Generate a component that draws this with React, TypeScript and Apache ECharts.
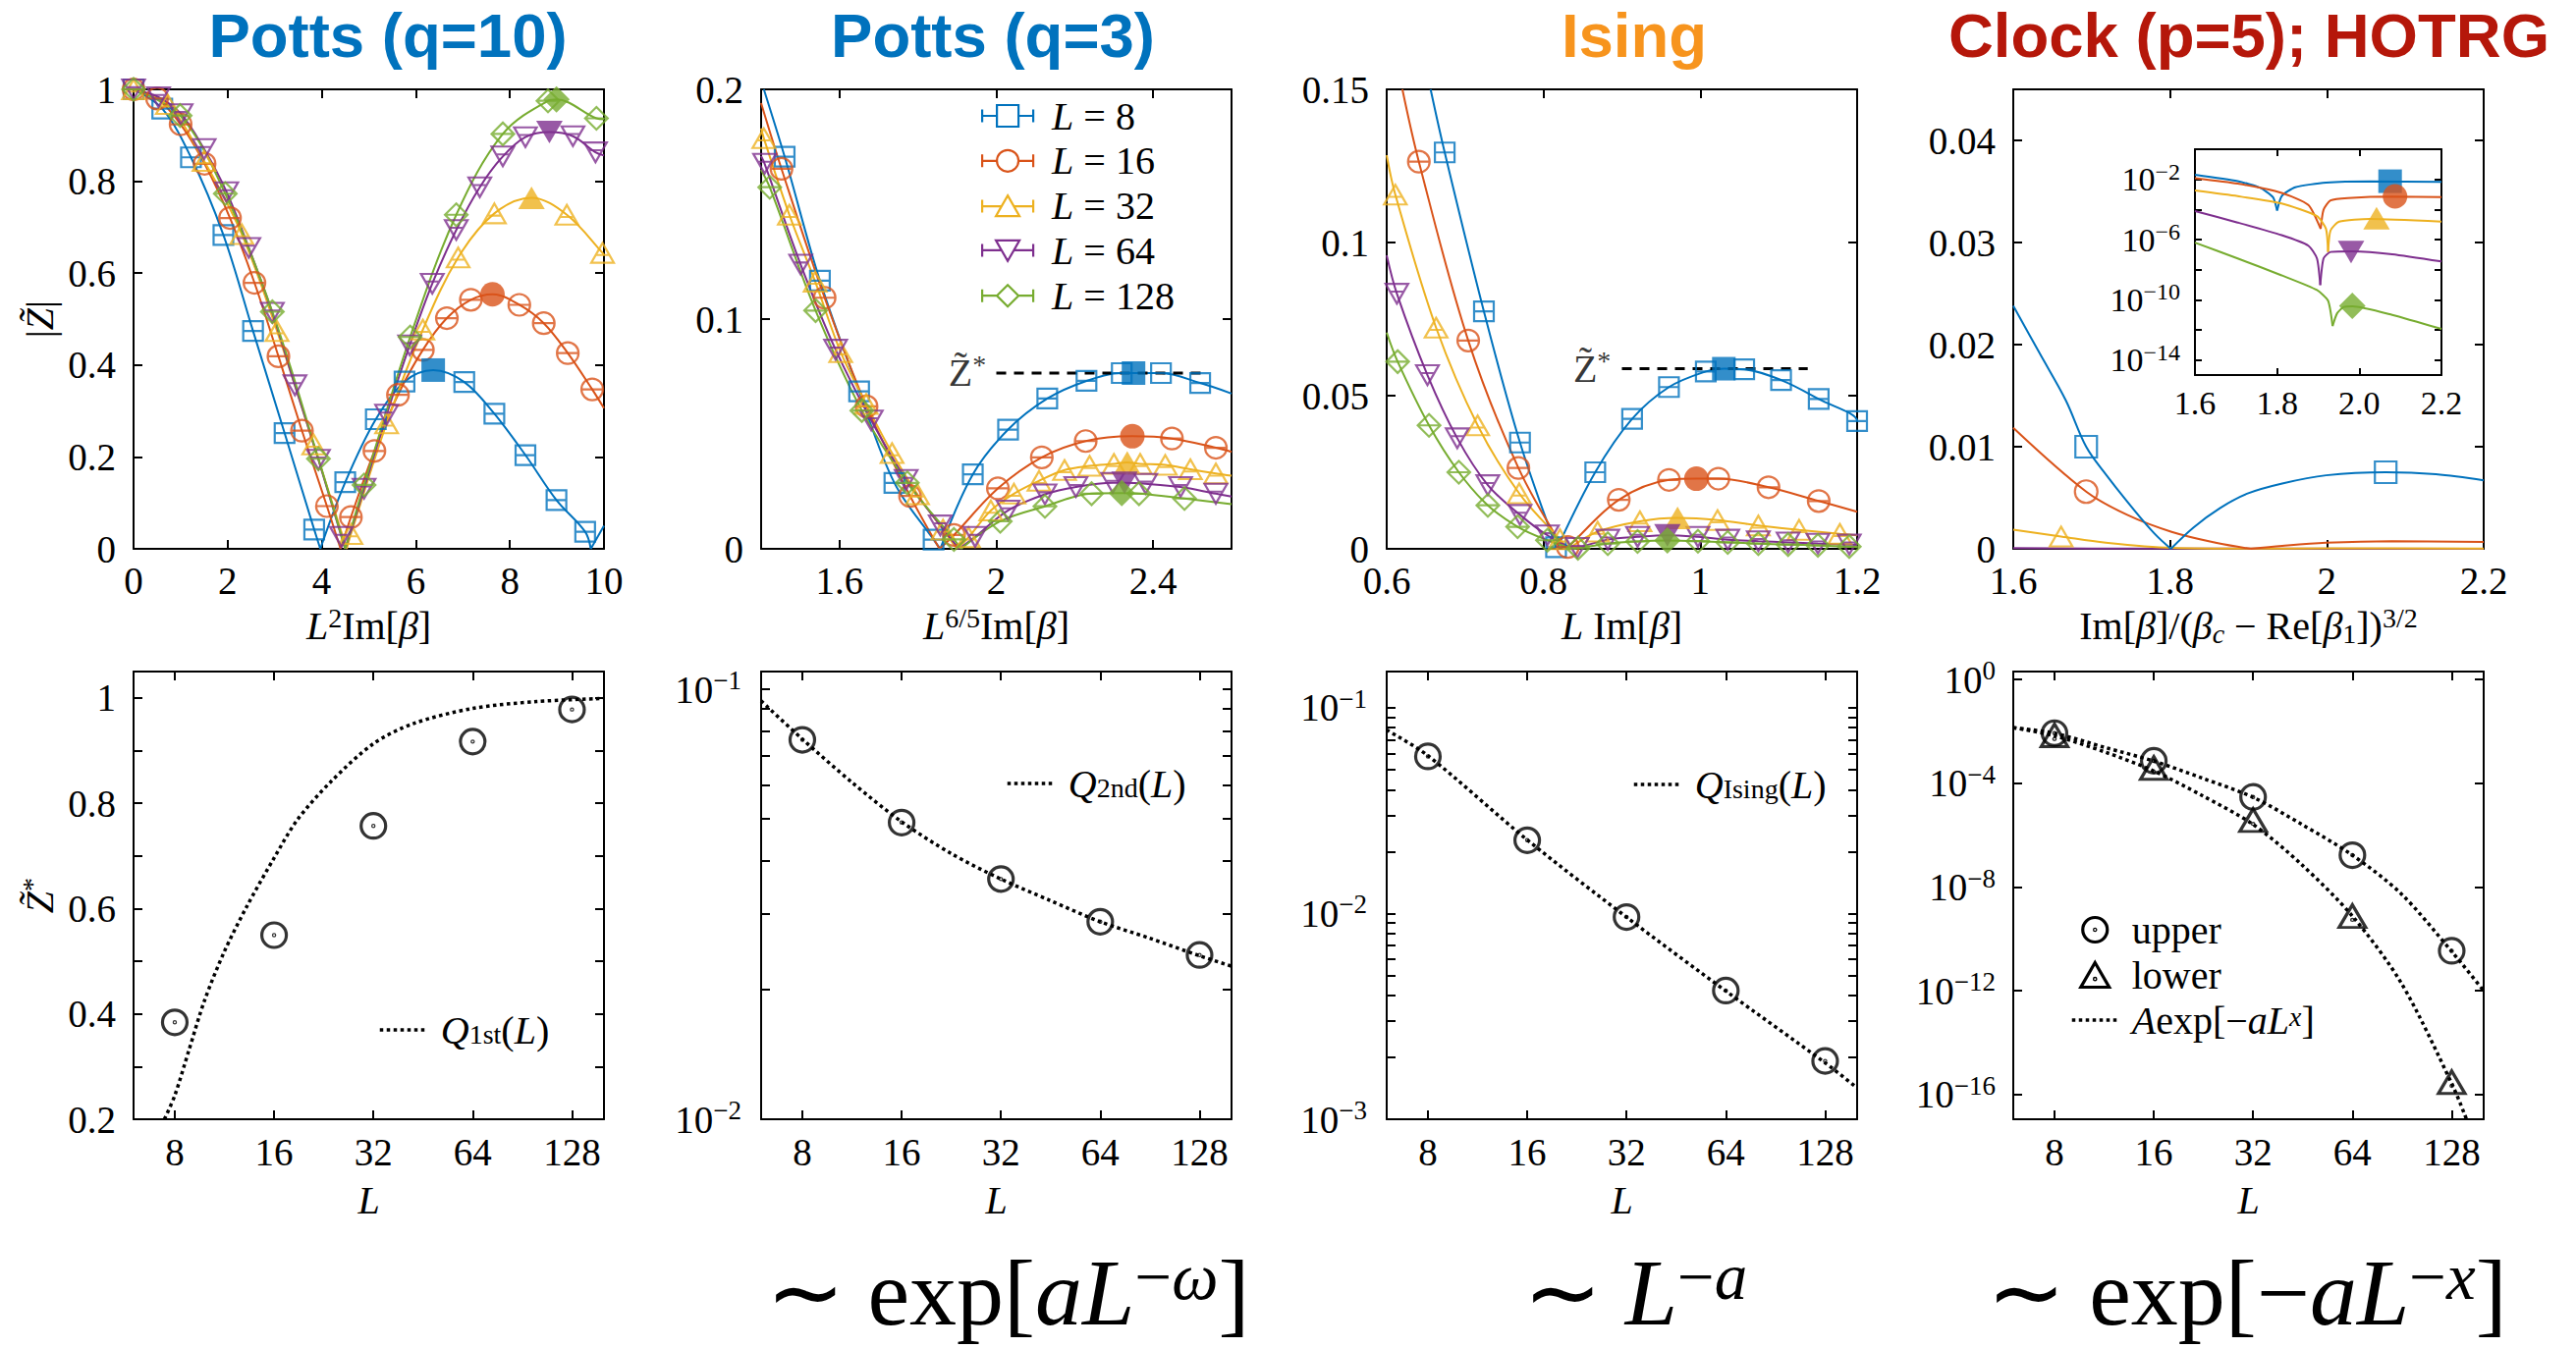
import React, { useEffect, useRef } from 'react';
import * as echarts from 'echarts';

const SERIF = 'Liberation Serif';
const SANS = 'Liberation Sans';
const COLORS = ['#0072BD', '#D95319', '#EDB120', '#7E2F8E', '#77AC30'];
const L_SIZES = [8, 16, 32, 64, 128];

/* ---------------- Potts q=10 : |Z~| vs L^2 Im[beta] ---------------- */
const q10_x8 = [0, 0.61, 1.22, 1.91, 2.54, 3.21, 3.84, 4.5, 5.15, 5.76, 7.03, 7.67, 8.33, 8.99, 9.6];
const q10_y8 = [1.0, 0.958, 0.852, 0.683, 0.474, 0.252, 0.042, 0.145, 0.282, 0.364, 0.363, 0.294, 0.204, 0.106, 0.037];
const q10_x16 = [0, 0.5, 1.0, 1.51, 2.05, 2.57, 3.08, 3.58, 4.11, 4.62, 5.12, 5.62, 6.15, 6.66, 7.17, 8.2, 8.72, 9.23, 9.75];
const q10_y16 = [1.0, 0.98, 0.924, 0.838, 0.72, 0.579, 0.419, 0.257, 0.093, 0.069, 0.213, 0.335, 0.433, 0.502, 0.542, 0.531, 0.491, 0.426, 0.347];
const q10_x32 = [0, 0.72, 1.5, 2.3, 3.05, 3.83, 4.62, 5.38, 6.15, 6.9, 7.67, 9.21, 9.97];
const q10_y32 = [1.0, 0.968, 0.844, 0.685, 0.474, 0.227, 0.032, 0.273, 0.477, 0.634, 0.73, 0.727, 0.644];
const q10_x64 = [0, 0.53, 1.01, 1.5, 1.98, 2.45, 2.95, 3.43, 3.93, 4.42, 4.9, 5.38, 5.87, 6.35, 6.86, 7.36, 7.85, 8.33, 9.34, 9.82];
const q10_y64 = [1.0, 0.983, 0.946, 0.87, 0.776, 0.655, 0.514, 0.356, 0.194, 0.026, 0.131, 0.292, 0.443, 0.577, 0.694, 0.787, 0.854, 0.896, 0.898, 0.863];
const q10_x128 = [0, 0.99, 1.95, 2.95, 3.93, 4.9, 5.88, 6.86, 7.85, 8.81, 9.84];
const q10_y128 = [1.0, 0.943, 0.773, 0.516, 0.196, 0.139, 0.461, 0.727, 0.903, 0.975, 0.937];
const q10_peaks = [[6.37, 0.389], [7.63, 0.554], [8.46, 0.764], [8.84, 0.907], [8.99, 0.978]];
const q10_zeros = [[3.97, 9.72], [4.4], [4.53], [4.5], [4.5]];
const q10_edges = [[[10, 0.05]], [[10, 0.306]], [[10, 0.639]], [[10, 0.856]], [[10, 0.935]]];

/* ---------------- Potts q=3 : |Z~| vs L^{6/5} Im[beta] ---------------- */
const q3_x8 = [1.46, 1.55, 1.65, 1.74, 1.84, 1.94, 2.03, 2.13, 2.23, 2.32, 2.42, 2.52];
const q3_y8 = [0.1707, 0.1167, 0.0685, 0.0287, 0.004, 0.0324, 0.0519, 0.0654, 0.0731, 0.0765, 0.0765, 0.0722];
const q3_x16 = [1.452, 1.562, 1.669, 1.78, 1.892, 2.004, 2.116, 2.228, 2.448, 2.56];
const q3_y16 = [0.1654, 0.1093, 0.062, 0.023, 0.006, 0.0263, 0.0398, 0.0469, 0.048, 0.044];
const q3_x32 = [1.407, 1.472, 1.538, 1.603, 1.668, 1.734, 1.799, 1.864, 1.929, 1.986, 2.045, 2.109, 2.174, 2.238, 2.3, 2.367, 2.431, 2.495, 2.56];
const q3_y32 = [0.1787, 0.1454, 0.1163, 0.0856, 0.063, 0.0417, 0.0237, 0.0083, 0.005, 0.0167, 0.024, 0.0296, 0.0343, 0.0361, 0.037, 0.037, 0.0365, 0.0346, 0.0328];
const q3_x64 = [1.409, 1.501, 1.59, 1.681, 1.77, 1.857, 1.946, 2.03, 2.124, 2.203, 2.297, 2.381, 2.47, 2.56];
const q3_y64 = [0.1676, 0.1237, 0.0867, 0.0559, 0.03, 0.0102, 0.0052, 0.0167, 0.0237, 0.0269, 0.0287, 0.0283, 0.0269, 0.024];
const q3_x128 = [1.422, 1.539, 1.657, 1.773, 1.892, 2.01, 2.124, 2.243, 2.364, 2.48];
const q3_y128 = [0.1574, 0.1037, 0.0602, 0.0287, 0.0041, 0.012, 0.0185, 0.024, 0.024, 0.0219];
const q3_peaks = [[2.35, 0.0765], [2.347, 0.049], [2.334, 0.0376], [2.327, 0.0287], [2.32, 0.0242]];
const q3_zeros = [[1.857], [1.855], [1.9], [1.905], [1.91]];
const q3_edges = [
  [[1.407, 0.2], [2.6, 0.0676]],
  [[1.4, 0.194], [2.6, 0.0422]],
  [[1.4, 0.183], [2.6, 0.0318]],
  [[1.4, 0.171], [2.6, 0.0228]],
  [[1.4, 0.165], [2.6, 0.0194]],
];
const q3_zstar = 0.0765;
const q3_zstar_x = [2.0, 2.525];
const q3_zstar_label = [1.926, 0.0765];

/* ---------------- Ising : |Z~| vs L Im[beta] ---------------- */
const is_x8 = [0.674, 0.724, 0.77, 0.816, 0.866, 0.913, 0.96, 1.007, 1.056, 1.103, 1.151, 1.2];
const is_y8 = [0.1294, 0.0775, 0.0347, 0.0005, 0.025, 0.0424, 0.0528, 0.0579, 0.0586, 0.0551, 0.0489, 0.0417];
const is_x16 = [0.641, 0.704, 0.768, 0.831, 0.896, 0.96, 1.023, 1.087, 1.151];
const is_y16 = [0.1264, 0.068, 0.0264, 0.0006, 0.016, 0.0225, 0.0229, 0.0201, 0.0156];
const is_x32 = [0.611, 0.663, 0.716, 0.769, 0.821, 0.869, 0.923, 1.022, 1.074, 1.126, 1.178];
const is_y32 = [0.1156, 0.0722, 0.0403, 0.0181, 0.0031, 0.0056, 0.009, 0.0094, 0.0076, 0.0062, 0.0049];
const is_x64 = [0.613, 0.652, 0.69, 0.729, 0.77, 0.805, 0.843, 0.882, 0.92, 0.997, 1.035, 1.074, 1.112, 1.15, 1.19];
const is_y64 = [0.0833, 0.0567, 0.0361, 0.0208, 0.0111, 0.0044, 0.0003, 0.003, 0.0039, 0.0039, 0.003, 0.0025, 0.0021, 0.0017, 0.0014];
const is_x128 = [0.614, 0.654, 0.692, 0.729, 0.767, 0.805, 0.844, 0.882, 0.92, 0.997, 1.035, 1.074, 1.112, 1.15, 1.19];
const is_y128 = [0.0611, 0.0403, 0.025, 0.0142, 0.0072, 0.0028, 0.0002, 0.0017, 0.0024, 0.0025, 0.0021, 0.0017, 0.0014, 0.0011, 0.0007];
const is_peaks = [[1.03, 0.0588], [0.995, 0.0229], [0.971, 0.0101], [0.958, 0.0044], [0.958, 0.0027]];
const is_zeros = [[0.817], [0.826], [0.832], [0.838], [0.838]];
const is_edges = [
  [[0.656, 0.15], [1.2, 0.0415]],
  [[0.62, 0.15], [1.2, 0.0121]],
  [[0.6, 0.1285], [1.2, 0.0044]],
  [[0.6, 0.0958], [1.2, 0.0013]],
  [[0.6, 0.0706], [1.2, 0.0006]],
];
const is_zstar = 0.0588;
const is_zstar_x = [0.9, 1.137];
const is_zstar_label = [0.862, 0.0588];

/* ---------------- Clock p=5 (HOTRG) main panel ---------------- */
const clk_b1_x = [1.6, 1.634, 1.667, 1.693, 1.718, 1.752, 1.78, 1.801];
const clk_b1_y = [0.0238, 0.0191, 0.01455, 0.01, 0.0073, 0.004, 0.0015, 0];
const clk_b2_x = [1.801, 1.83, 1.864, 1.898, 1.943, 1.999, 2.075, 2.139, 2.2];
const clk_b2_y = [0, 0.0021, 0.004, 0.0054, 0.0064, 0.0072, 0.0075, 0.0073, 0.0067];
const clk_r1_x = [1.6, 1.693, 1.746, 1.802, 1.858, 1.903];
const clk_r1_y = [0.01185, 0.0056, 0.0033, 0.00166, 0.0006, 0];
const clk_r2_x = [1.903, 1.943, 1.999, 2.083, 2.2];
const clk_r2_y = [0, 0.0003, 0.0006, 0.00075, 0.00067];
const clk_y_x = [1.6, 1.661, 1.718, 1.802, 1.9, 2.0, 2.2];
const clk_y_y = [0.00187, 0.0012, 0.0006, 0.0001, 0.00002, 0.00004, 0.00003];
const clk_p_x = [1.6, 1.7, 2.2];
const clk_p_y = [0.00008, 0.00003, 0.0000002];
const clk_marks_blue = [[1.693, 0.01], [2.075, 0.0075]];
const clk_marks_red = [[1.693, 0.0056]];
const clk_marks_yellow = [[1.661, 0.0012]];

/* ---------------- Clock inset (log scale) ---------------- */
const ins_b1_x = [1.6, 1.704, 1.758, 1.79, 1.8];
const ins_b1_y = [2.0e-2, 7.5e-3, 2.8e-3, 6.5e-4, 8.3e-5];
const ins_b2_x = [1.8, 1.811, 1.844, 1.919, 2.026, 2.2];
const ins_b2_y = [8.3e-5, 7.6e-4, 3.0e-3, 6.0e-3, 7.3e-3, 6.7e-3];
const ins_r1_x = [1.6, 1.704, 1.811, 1.876, 1.906];
const ins_r1_y = [1.2e-2, 5.2e-3, 1.26e-3, 2.0e-4, 5.1e-6];
const ins_r2_x = [1.906, 1.913, 1.93, 1.972, 2.08, 2.2];
const ins_r2_y = [5.1e-6, 9.5e-5, 4.0e-4, 5.8e-4, 7.2e-4, 6.7e-4];
const ins_y1_x = [1.6, 1.704, 1.811, 1.897, 1.919, 1.924];
const ins_y1_y = [1.8e-3, 7.6e-4, 2.5e-4, 3.6e-5, 5.1e-6, 1.5e-7];
const ins_y2_x = [1.924, 1.93, 1.951, 2.026, 2.2];
const ins_y2_y = [1.5e-7, 4.0e-6, 1.55e-5, 2.3e-5, 1.55e-5];
const ins_p1_x = [1.6, 1.704, 1.811, 1.876, 1.897, 1.905];
const ins_p1_y = [7.8e-5, 1.35e-5, 1.95e-6, 3.9e-7, 5.6e-8, 9.5e-10];
const ins_p2_x = [1.905, 1.913, 1.93, 1.983, 2.08, 2.2];
const ins_p2_y = [9.5e-10, 5.6e-8, 1.5e-7, 1.66e-7, 1.07e-7, 3.5e-8];
const ins_g1_x = [1.6, 1.704, 1.811, 1.897, 1.924, 1.935];
const ins_g1_y = [6.2e-7, 5.6e-8, 4.2e-9, 4.4e-10, 8.7e-11, 1.8e-12];
const ins_g2_x = [1.935, 1.946, 1.962, 1.983, 2.08, 2.2];
const ins_g2_y = [1.8e-12, 1.26e-11, 3.3e-11, 3.7e-11, 1.0e-11, 1.15e-12];
const ins_peaks = [[2.075, 7.5e-3], [2.087, 7.4e-4], [2.042, 2.6e-5], [1.98, 1.5e-7], [1.983, 3.9e-11]];

/* ---------------- bottom row: Z~* vs L ---------------- */
const z_first = [0.384, 0.5495, 0.757, 0.917, 0.978];
const q1st_x = [7.44, 8, 8.82, 9.84, 11.3, 13.2, 16, 18.8, 23.7, 32, 42.2, 64, 100, 160];
const q1st_y = [0.2, 0.245, 0.33, 0.425, 0.518, 0.603, 0.696, 0.768, 0.84, 0.913, 0.951, 0.98, 0.993, 0.999];
const z_second = [0.0763, 0.049, 0.0362, 0.0288, 0.0241];
const q2nd_x = [6, 8, 11.3, 16, 22.6, 32, 45, 64, 90, 128, 160];
const q2nd_y = [0.094, 0.0766, 0.0608, 0.0492, 0.0415, 0.0362, 0.0323, 0.0288, 0.0264, 0.024, 0.0227];
const z_ising = [0.058, 0.0227, 0.00961, 0.00422, 0.00192];
const qis_x = [6, 8, 16, 32, 64, 128, 160];
const qis_y = [0.078, 0.0585, 0.0228, 0.0096, 0.0042, 0.00188, 0.00142];
const z_upper = [8.6e-3, 7.4e-4, 3.0e-5, 1.7e-7, 3.5e-11];
const z_lower = [7.1e-3, 3.9e-4, 3.8e-6, 7.6e-10, 3.0e-16];
const fit_up_x = [6, 8, 11.4, 16, 22.4, 32, 45, 64, 90, 128, 159];
const fit_up_y = [1.4e-2, 8.5e-3, 2.4e-3, 7.2e-4, 1.6e-4, 2.9e-5, 2.6e-6, 1.7e-7, 5.5e-9, 3.3e-11, 1.1e-12];
const fit_lo_x = [6, 8, 11.4, 16, 22.4, 32, 45, 64, 90, 128, 142];
const fit_lo_y = [1.4e-2, 6.8e-3, 1.6e-3, 3.0e-4, 3.4e-5, 2.6e-6, 7.2e-8, 7.6e-10, 2.0e-12, 2.7e-16, 1.1e-17];

/* ---------------- symbols ---------------- */
const SYM_BAR = [
  'path://M0,0L10,0L10,10L0,10ZM0,5L10,5',
  'path://M0,5A5,5,0,1,1,10,5A5,5,0,1,1,0,5ZM0,5L10,5',
  'path://M5,0L10,8.66L0,8.66ZM2,5.3L8,5.3',
  'path://M0,0L10,0L5,8.66ZM2,3.4L8,3.4',
  'path://M5,0L10,5L5,10L0,5ZM0,5L10,5',
];
const SYM_PLAIN = [
  'path://M0,0L10,0L10,10L0,10Z',
  'path://M0,5A5,5,0,1,1,10,5A5,5,0,1,1,0,5Z',
  'path://M5,0L10,8.66L0,8.66Z',
  'path://M0,0L10,0L5,8.66Z',
  'path://M5,0L10,5L5,10L0,5Z',
];
// legend icons: error-bar style "|—[marker]—|"
const CAPS = 'M0,12L16,12M38,12L54,12M1,5.5L1,18.5M53,5.5L53,18.5';
const CAPS_T = 'M0,12L21,12M33,12L54,12M1,5.5L1,18.5M53,5.5L53,18.5';
const LEG_ICON = [
  'path://' + CAPS + 'M16,1L38,1L38,23L16,23Z',
  'path://' + CAPS + 'M16,12A11,11,0,1,1,38,12A11,11,0,1,1,16,12Z',
  'path://' + CAPS_T + 'M27,1L39,22L15,22Z',
  'path://' + CAPS_T + 'M15,2L39,2L27,23Z',
  'path://' + CAPS + 'M27,1L38,12L27,23L16,12Z',
];
const SYM_SIZE = [[20, 20], [22, 22], [23, 20], [23, 20], [23, 23]];
const SYM_BIG = [[24, 24], [25, 25], [27, 23], [27, 23], [27, 27]];
const SYM_ODOT = 'path://M0,5A5,5,0,1,1,10,5A5,5,0,1,1,0,5ZM4.75,5A0.25,0.25,0,1,1,5.25,5A0.25,0.25,0,1,1,4.75,5Z';
const SYM_TDOT = 'path://M5,0L10,8.66L0,8.66ZM4.75,5.77A0.25,0.25,0,1,1,5.25,5.77A0.25,0.25,0,1,1,4.75,5.77Z';

/* ---------------- helpers ---------------- */
const zip = (xs: number[], ys: number[]) => xs.map((x, i) => [x, ys[i]]);
const R = (size: number, lh: number, extra: any = {}) => ({ fontFamily: SERIF, fontSize: size, lineHeight: lh, color: '#000', ...extra });
const NAME_RICH = {
  i: R(40, 44, { fontStyle: 'italic' }),
  r: R(40, 44),
  sup: R(28, 22, { verticalAlign: 'top' }),
  sub: R(28, 22, { verticalAlign: 'bottom' }),
  subi: R(28, 22, { verticalAlign: 'bottom', fontStyle: 'italic' }),
};
const logRich = (fs: number) => ({ b: R(fs, fs + 6), s: R(Math.round(fs * 0.7), Math.round(fs * 0.6), { verticalAlign: 'top' }) });
const logFmt = (v: number) => `{b|10}{s|${v < 0 ? '\u2212' : ''}${Math.abs(Math.round(v))}}`;
const numFmt = (v: number) => String(Math.round(v * 1e6) / 1e6);

function branchesFrom(xs: number[], ys: number[], peak: number[], zeros: number[], edges: number[][]) {
  const pts: any[] = zip(xs, ys).concat([peak], edges).map((p) => ({ p, z: false }));
  zeros.forEach((z) => pts.push({ p: [z, 0], z: true }));
  pts.sort((a, b) => a.p[0] - b.p[0]);
  const out: number[][][] = [];
  let cur: number[][] = [];
  pts.forEach(({ p, z }) => {
    cur.push(p);
    if (z) { out.push(cur); cur = [p]; }
  });
  out.push(cur);
  return out.filter((b) => b.length > 1);
}

function makeAxis(g: number, position: string, c: any, primary: boolean) {
  const isY = position === 'left' || position === 'right';
  const ax: any = {
    type: 'value', gridIndex: g, position, min: c.min, max: c.max,
    axisLine: { show: true, onZero: false, lineStyle: { color: '#000', width: 2 } },
    axisTick: { show: true, inside: true, length: c.tickLen ?? 9, customValues: c.ticks, lineStyle: { color: '#000', width: 2 } },
    splitLine: { show: false }, minorTick: { show: false }, minorSplitLine: { show: false },
    axisLabel: { show: false },
    silent: true,
  };
  if (primary && c.labels) {
    ax.axisLabel = {
      show: true, customValues: c.labels, formatter: c.fmt ?? numFmt,
      margin: c.margin ?? (isY ? 18 : 13), fontFamily: SERIF, fontSize: c.fs ?? 39, color: '#000', rich: c.rich,
    };
  }
  if (primary && c.name) {
    ax.name = c.name;
    ax.nameLocation = 'middle';
    ax.nameGap = c.nameGap;
    if (isY) ax.nameRotate = 90;
    ax.nameTextStyle = { fontFamily: SERIF, fontSize: 40, color: '#000', rich: NAME_RICH };
  }
  return ax;
}

function buildOption() {
  const grid: any[] = [], xAxis: any[] = [], yAxis: any[] = [], series: any[] = [], legend: any[] = [], graphic: any[] = [];
  const COLS = [136, 775, 1412, 2050];
  const CW = 479, TOP = 91, TOPH = 468, BOT = 684, BOTH = 456;

  const addPanel = (left: number, top: number, w: number, h: number, xc: any, yc: any) => {
    const g = grid.length;
    grid.push({ left, top, width: w, height: h, outerBoundsMode: 'none' });
    const xi = xAxis.length, yi = yAxis.length;
    xAxis.push(makeAxis(g, 'bottom', xc, true), makeAxis(g, 'top', xc, false));
    yAxis.push(makeAxis(g, 'left', yc, true), makeAxis(g, 'right', yc, false));
    return { xAxisIndex: xi, yAxisIndex: yi };
  };
  const addLine = (ax: any, data: number[][], color: string, extra: any = {}) => series.push({
    type: 'line', ...ax, data, smooth: 0.35, symbol: 'none', lineStyle: { color, width: 2 }, z: 2, silent: true, ...extra,
  });
  const addScatter = (ax: any, data: number[][], sym: string, size: any, color: string, filled: boolean, extra: any = {}) => series.push({
    type: 'scatter', ...ax, data, symbol: sym, symbolSize: size,
    itemStyle: filled ? { color, borderWidth: 0 } : { color: 'rgba(255,255,255,0)', borderColor: color, borderWidth: 2.2 },
    z: filled ? 4 : 3, silent: true, ...extra,
  });

  /* ---- Panel 1 ---- */
  const a1 = addPanel(COLS[0], TOP, CW, TOPH,
    { min: 0, max: 10, ticks: [0, 2, 4, 6, 8, 10], labels: [0, 2, 4, 6, 8, 10], name: '{i|L}{sup|2}{r|Im[}{i|\u03B2}{r|]}', nameGap: 56 },
    { min: 0, max: 1, ticks: [0, 0.2, 0.4, 0.6, 0.8, 1], labels: [0, 0.2, 0.4, 0.6, 0.8, 1], name: '{r||}{i|Z\u0303}{r||}', nameGap: 74 });
  const q10X = [q10_x8, q10_x16, q10_x32, q10_x64, q10_x128];
  const q10Y = [q10_y8, q10_y16, q10_y32, q10_y64, q10_y128];
  q10X.forEach((xs, k) => {
    branchesFrom(xs, q10Y[k], q10_peaks[k], q10_zeros[k], q10_edges[k]).forEach((b) => addLine(a1, b, COLORS[k]));
    addScatter(a1, zip(xs, q10Y[k]), SYM_BAR[k], SYM_SIZE[k], COLORS[k], false);
    addScatter(a1, [q10_peaks[k]], SYM_PLAIN[k], SYM_BIG[k], COLORS[k], true);
  });

  /* ---- Panel 2 ---- */
  const a2 = addPanel(COLS[1], TOP, CW, TOPH,
    { min: 1.4, max: 2.6, ticks: [1.6, 2, 2.4], labels: [1.6, 2, 2.4], name: '{i|L}{sup|6/5}{r|Im[}{i|\u03B2}{r|]}', nameGap: 56 },
    { min: 0, max: 0.2, ticks: [0, 0.1, 0.2], labels: [0, 0.1, 0.2] });
  const q3X = [q3_x8, q3_x16, q3_x32, q3_x64, q3_x128];
  const q3Y = [q3_y8, q3_y16, q3_y32, q3_y64, q3_y128];
  const legend2Data: any[] = [];
  q3X.forEach((xs, k) => {
    branchesFrom(xs, q3Y[k], q3_peaks[k], q3_zeros[k], q3_edges[k]).forEach((b) => addLine(a2, b, COLORS[k]));
    const name = 'q3-' + L_SIZES[k];
    addScatter(a2, zip(xs, q3Y[k]), SYM_BAR[k], SYM_SIZE[k], COLORS[k], false, { name });
    addScatter(a2, [q3_peaks[k]], SYM_PLAIN[k], SYM_BIG[k], COLORS[k], true);
    legend2Data.push({
      name, icon: LEG_ICON[k],
      itemStyle: { color: 'rgba(255,255,255,0)', borderColor: COLORS[k], borderWidth: 2.2, opacity: 1 },
    });
  });
  addLine(a2, q3_zstar_x.map((x) => [x, q3_zstar]), '#000', { smooth: false, lineStyle: { color: '#000', width: 3, type: [10, 8] }, z: 3 });
  const zstarLabel = (ax: any, pos: number[]) => series.push({
    type: 'scatter', ...ax, data: [pos], symbolSize: 1, itemStyle: { color: 'rgba(0,0,0,0)' }, silent: true, z: 5,
    label: {
      show: true, position: 'inside', formatter: '{z|Z\u0303}{s|*}',
      rich: { z: R(40, 44), s: R(28, 22, { verticalAlign: 'top' }) },
    },
  });
  zstarLabel(a2, q3_zstar_label);
  legend.push({
    data: legend2Data, left: 998, top: 98, orient: 'vertical', itemWidth: 54, itemHeight: 24, itemGap: 5.8, padding: 0,
    selectedMode: false, symbolKeepAspect: true,
    formatter: (n: string) => `{i|L}{r| = ${n.split('-')[1]}}`,
    textStyle: { fontFamily: SERIF, fontSize: 40, color: '#000', padding: [0, 0, 0, 13], rich: { i: R(40, 24, { fontStyle: 'italic' }), r: R(40, 24) } },
  });

  /* ---- Panel 3 ---- */
  const a3 = addPanel(COLS[2], TOP, CW, TOPH,
    { min: 0.6, max: 1.2, ticks: [0.6, 0.8, 1, 1.2], labels: [0.6, 0.8, 1, 1.2], name: '{i|L}{r| Im[}{i|\u03B2}{r|]}', nameGap: 56 },
    { min: 0, max: 0.15, ticks: [0, 0.05, 0.1, 0.15], labels: [0, 0.05, 0.1, 0.15] });
  const isX = [is_x8, is_x16, is_x32, is_x64, is_x128];
  const isY = [is_y8, is_y16, is_y32, is_y64, is_y128];
  isX.forEach((xs, k) => {
    branchesFrom(xs, isY[k], is_peaks[k], is_zeros[k], is_edges[k]).forEach((b) => addLine(a3, b, COLORS[k]));
    addScatter(a3, zip(xs, isY[k]), SYM_BAR[k], SYM_SIZE[k], COLORS[k], false);
    addScatter(a3, [is_peaks[k]], SYM_PLAIN[k], SYM_BIG[k], COLORS[k], true);
  });
  addLine(a3, is_zstar_x.map((x) => [x, is_zstar]), '#000', { smooth: false, lineStyle: { color: '#000', width: 3, type: [10, 8] }, z: 3 });
  zstarLabel(a3, is_zstar_label);

  /* ---- Panel 4 (main) ---- */
  const a4 = addPanel(COLS[3], TOP, CW, TOPH,
    { min: 1.6, max: 2.2, ticks: [1.6, 1.8, 2, 2.2], labels: [1.6, 1.8, 2, 2.2],
      name: '{r|Im[}{i|\u03B2}{r|]/(}{i|\u03B2}{subi|c}{r| \u2212 Re[}{i|\u03B2}{sub|1}{r|])}{sup|3/2}', nameGap: 56 },
    { min: 0, max: 0.045, ticks: [0, 0.01, 0.02, 0.03, 0.04], labels: [0, 0.01, 0.02, 0.03, 0.04] });
  addLine(a4, zip(clk_p_x, clk_p_y), COLORS[3]);
  addLine(a4, zip(clk_y_x, clk_y_y), COLORS[2]);
  addLine(a4, zip(clk_r1_x, clk_r1_y), COLORS[1]);
  addLine(a4, zip(clk_r2_x, clk_r2_y), COLORS[1]);
  addLine(a4, zip(clk_b1_x, clk_b1_y), COLORS[0]);
  addLine(a4, zip(clk_b2_x, clk_b2_y), COLORS[0]);
  addScatter(a4, clk_marks_blue, SYM_PLAIN[0], [22, 22], COLORS[0], false);
  addScatter(a4, clk_marks_red, SYM_PLAIN[1], [23, 23], COLORS[1], false);
  addScatter(a4, clk_marks_yellow, SYM_PLAIN[2], [23, 20], COLORS[2], false);

  /* ---- Inset ---- */
  const insTicks: number[] = [];
  for (let e = -14; e <= 0; e += 2) insTicks.push(e);
  const a4i = addPanel(2235, 152, 251, 230,
    { min: 1.6, max: 2.2, ticks: [1.6, 1.8, 2, 2.2], labels: [1.6, 1.8, 2, 2.2], fmt: (v: number) => v.toFixed(1), fs: 34, tickLen: 7, margin: 11 },
    { min: -15, max: 0, ticks: insTicks, labels: [-14, -10, -6, -2], fmt: logFmt, rich: logRich(34), fs: 34, tickLen: 7, margin: 15 });
  const lg = (xs: number[], ys: number[]) => xs.map((x, i) => [x, Math.log10(ys[i])]);
  const insBranches = [
    [[ins_b1_x, ins_b1_y], [ins_b2_x, ins_b2_y]],
    [[ins_r1_x, ins_r1_y], [ins_r2_x, ins_r2_y]],
    [[ins_y1_x, ins_y1_y], [ins_y2_x, ins_y2_y]],
    [[ins_p1_x, ins_p1_y], [ins_p2_x, ins_p2_y]],
    [[ins_g1_x, ins_g1_y], [ins_g2_x, ins_g2_y]],
  ];
  insBranches.forEach((brs, k) => {
    brs.forEach(([xs, ys]) => addLine(a4i, lg(xs, ys), COLORS[k], { smooth: 0.2, z: 6 }));
    addScatter(a4i, [[ins_peaks[k][0], Math.log10(ins_peaks[k][1])]], SYM_PLAIN[k], SYM_BIG[k], COLORS[k], true, { z: 7 });
  });

  /* ---- Bottom row ---- */
  const xL = {
    min: Math.log2(6), max: Math.log2(160), ticks: [3, 4, 5, 6, 7], labels: [3, 4, 5, 6, 7],
    fmt: (v: number) => String(Math.round(Math.pow(2, v))), name: '{i|L}', nameGap: 60, margin: 14,
  };
  const Lx = L_SIZES.map((L) => Math.log2(L));
  const DOT = { color: '#000', width: 3.5, type: [3.5, 3.5] };
  const addDotted = (ax: any, xs: number[], ys: number[], logY: boolean, name?: string) => series.push({
    type: 'line', name, ...ax, data: xs.map((x, i) => [Math.log2(x), logY ? Math.log10(ys[i]) : ys[i]]),
    smooth: 0.3, symbol: 'none', lineStyle: DOT, z: 2, silent: true,
  });
  const addOdot = (ax: any, ys: number[], logY: boolean, sym: string, size: any, name?: string) => series.push({
    type: 'scatter', name, ...ax, data: Lx.map((x, i) => [x, logY ? Math.log10(ys[i]) : ys[i]]),
    symbol: sym, symbolSize: size, itemStyle: { color: 'rgba(255,255,255,0)', borderColor: '#000', borderWidth: 3.2 }, z: 3, silent: true,
  });
  const dotLegend = (name: string, left: number, cy: number, text: string) => legend.push({
    data: [{ name, itemStyle: { opacity: 0 }, lineStyle: { ...DOT, opacity: 1 } }],
    left, top: cy - 20, itemWidth: 48, itemHeight: 25, padding: 0, selectedMode: false,
    formatter: () => text,
    textStyle: {
      fontFamily: SERIF, fontSize: 40, color: '#000', padding: [0, 0, 0, 9],
      rich: { i: R(40, 36, { fontStyle: 'italic' }), r: R(40, 36), sub: R(28, 14, { verticalAlign: 'bottom' }) },
    },
  });

  const tick01: number[] = [];
  for (let k = 2; k <= 10; k++) tick01.push(k / 10);
  const a5 = addPanel(COLS[0], BOT, CW, BOTH, xL,
    { min: 0.2, max: 1.05, ticks: tick01, labels: [0.2, 0.4, 0.6, 0.8, 1], name: '{i|Z\u0303}{sup|*}', nameGap: 74 });
  addDotted(a5, q1st_x, q1st_y, false, 'Q1st');
  addOdot(a5, z_first, false, SYM_ODOT, 25);
  dotLegend('Q1st', 385, 1049, '{i|Q}{sub|1st}{r|(}{i|L}{r|)}');

  const logTicks = (a: number, b: number) => {
    const t: number[] = [];
    for (let e = a; e < b; e++) for (let k = 1; k <= 9; k++) t.push(e + Math.log10(k));
    t.push(b);
    return t;
  };
  const a6 = addPanel(COLS[1], BOT, CW, BOTH, xL,
    { min: -2, max: Math.log10(0.11), ticks: logTicks(-2, -1), labels: [-2, -1], fmt: logFmt, rich: logRich(39), margin: 20 });
  addDotted(a6, q2nd_x, q2nd_y, true, 'Q2nd');
  addOdot(a6, z_second, true, SYM_ODOT, 25);
  dotLegend('Q2nd', 1024, 798, '{i|Q}{sub|2nd}{r|(}{i|L}{r|)}');

  const a7 = addPanel(COLS[2], BOT, CW, BOTH, xL,
    { min: -3, max: Math.log10(0.15), ticks: logTicks(-3, -1), labels: [-3, -2, -1], fmt: logFmt, rich: logRich(39), margin: 20 });
  addDotted(a7, qis_x, qis_y, true, 'QIsing');
  addOdot(a7, z_ising, true, SYM_ODOT, 25);
  dotLegend('QIsing', 1662, 799, '{i|Q}{sub|Ising}{r|(}{i|L}{r|)}');

  const a8 = addPanel(COLS[3], BOT, CW, BOTH, xL,
    { min: -16.95, max: 0.31, ticks: [-16, -12, -8, -4, 0], labels: [-16, -12, -8, -4, 0], fmt: logFmt, rich: logRich(39), margin: 18 });
  addDotted(a8, fit_up_x, fit_up_y, true, 'fit8');
  addDotted(a8, fit_lo_x, fit_lo_y, true, 'fit8');
  addOdot(a8, z_upper, true, SYM_ODOT, 25, 'upper');
  addOdot(a8, z_lower, true, SYM_TDOT, [27, 23], 'lower');
  const markLeg = { color: 'rgba(255,255,255,0)', borderColor: '#000', borderWidth: 3.2, opacity: 1 };
  legend.push({
    data: [
      { name: 'upper', itemStyle: markLeg },
      { name: 'lower', itemStyle: markLeg },
      { name: 'fit8', itemStyle: { opacity: 0 }, lineStyle: { ...DOT, opacity: 1 } },
    ],
    left: 2108, top: 927, orient: 'vertical', itemWidth: 47, itemHeight: 25, itemGap: 6, padding: 0, selectedMode: false,
    formatter: (n: string) => (n === 'fit8' ? '{i|A}{r|exp[\u2212}{i|aL}{sup|x}{r|]}' : `{r|${n}}`),
    textStyle: {
      fontFamily: SERIF, fontSize: 40, color: '#000', padding: [0, 0, 0, 9],
      rich: { i: R(40, 36, { fontStyle: 'italic' }), r: R(40, 36), sup: R(28, 14, { verticalAlign: 'top', fontStyle: 'italic' }) },
    },
  });

  /* ---- titles & formulas ---- */
  const title = (x: number, text: string, fill: string) => graphic.push({
    type: 'text', x, y: 36, silent: true,
    style: { text, fill, fontFamily: SANS, fontWeight: 'bold', fontSize: 63.5, align: 'center', verticalAlign: 'middle' },
  });
  title(395, 'Potts (q=10)', '#0072BD');
  title(1011, 'Potts (q=3)', '#0072BD');
  title(1664, 'Ising', '#F7941D');
  title(2290, 'Clock (p=5); HOTRG', '#B5170A');

  const FR = {
    r: { fontFamily: SERIF, fontSize: 96, lineHeight: 100, fill: '#000' },
    i: { fontFamily: SERIF, fontSize: 96, lineHeight: 100, fill: '#000', fontStyle: 'italic' },
    s: { fontFamily: SERIF, fontSize: 67, lineHeight: 52, fill: '#000', verticalAlign: 'top' },
    si: { fontFamily: SERIF, fontSize: 67, lineHeight: 52, fill: '#000', verticalAlign: 'top', fontStyle: 'italic' },
  };
  const formula = (x: number, text: string) => graphic.push({
    type: 'text', x, y: 1316, silent: true, style: { text, rich: FR, align: 'center', verticalAlign: 'middle' },
  });
  formula(1026, '{r|\u223C exp[}{i|aL}{s|\u2212}{si|\u03C9}{r|]}');
  formula(1665, '{r|\u223C }{i|L}{s|\u2212}{si|a}');
  formula(2288, '{r|\u223C exp[\u2212}{i|aL}{s|\u2212}{si|x}{r|]}');

  return {
    animation: false, backgroundColor: '#fff', textStyle: { fontFamily: SERIF },
    grid, xAxis, yAxis, series, legend, graphic,
  };
}

export default function App() {
  const ref = useRef<HTMLDivElement>(null);
  useEffect(() => {
    const chart = echarts.init(ref.current as HTMLDivElement, null, { renderer: 'svg', width: 2623, height: 1373 });
    chart.setOption(buildOption() as any);
    return () => chart.dispose();
  }, []);
  return <div ref={ref} style={{ position: 'fixed', left: 0, top: 0, width: 2623, height: 1373, background: '#fff' }} />;
}
